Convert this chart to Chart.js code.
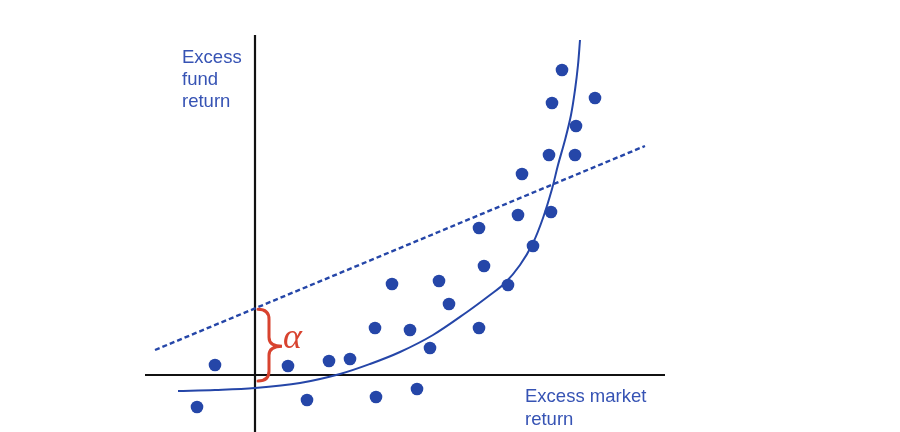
<!DOCTYPE html>
<html>
<head>
<meta charset="utf-8">
<script src="https://cdn.jsdelivr.net/npm/chart.js@4"></script>
<style>
  html, body { margin: 0; padding: 0; background: #fff; overflow: hidden; }
  canvas { display: block; }
</style>
</head>
<body>
<canvas id="myChart" width="900" height="432"></canvas>
<script>
// scatter of the fund against the market (units: arbitrary, axis cross at 0,0)
var marketReturn = [-1.45, -1.0, 0.825, 1.3, 1.85, 2.375, 3.025, 3.0, 3.425, 3.875, 4.05, 4.375, 4.6, 4.85,
                    5.6, 5.6, 5.725, 6.325, 6.575, 6.675, 6.95, 7.4, 7.35, 7.425, 8.0, 8.025, 7.675, 8.5];
var fundReturn = [-0.8, 0.25, 0.225, -0.625, 0.35, 0.4, -0.55, 1.175, 2.275, 1.125, -0.35, 0.675, 2.35, 1.775,
                  1.175, 3.675, 2.725, 2.25, 4.0, 5.025, 3.225, 4.075, 5.5, 6.8, 5.5, 6.225, 7.625, 6.925];

// straight (dashed) regression line
var fitX = [-2.5, 9.75];
var fitY = [0.625, 5.725];

// convex curve
var curveX = [-1.925, -1.0, 0, 1.125, 2.125, 2.875, 3.625, 4.45, 5.3, 5.875, 6.25, 6.625, 6.95, 7.2,
              7.425, 7.575, 7.75, 7.9, 8.0, 8.075, 8.125];
var curveY = [-0.4, -0.375, -0.325, -0.2, 0.025, 0.275, 0.575, 1.0, 1.575, 2.0, 2.3, 2.75, 3.3, 3.925,
              4.65, 5.25, 5.875, 6.5, 7.125, 7.75, 8.375];

var yAxisLabel = ['Excess', 'fund', 'return'];
var xAxisLabel = ['Excess market', 'return'];
var alphaLabel = 'α';

function pairs(xs, ys) {
    return xs.map(function (x, i) { return { x: x, y: ys[i] }; });
}

var blue = '#2546a8';
var textBlue = '#3653b4';
var red = '#d8432f';

// axes, labels and the alpha brace
var extras = {
    id: 'extras',
    beforeDatasetsDraw: function (chart) {
        var c = chart.ctx, a = chart.chartArea;
        var x0 = chart.scales.x.getPixelForValue(0);
        var y0 = chart.scales.y.getPixelForValue(0);
        c.save();
        c.strokeStyle = '#111';
        c.lineWidth = 2.2;
        c.beginPath();
        c.moveTo(a.left, y0);
        c.lineTo(a.right, y0);
        c.moveTo(x0, a.top);
        c.lineTo(x0, a.bottom);
        c.stroke();
        c.restore();
    },
    afterDraw: function (chart) {
        var c = chart.ctx;
        var xs = chart.scales.x, ys = chart.scales.y;
        var x0 = xs.getPixelForValue(0);

        c.save();
        c.fillStyle = textBlue;
        c.font = '18.5px "Liberation Sans", Arial, sans-serif';
        c.textBaseline = 'alphabetic';
        yAxisLabel.forEach(function (t, i) { c.fillText(t, 182, 63 + i * 22); });
        xAxisLabel.forEach(function (t, i) { c.fillText(t, 525, 402 + i * 23); });

        // brace from the line's intercept down to just above the x axis
        var intercept = fitY[0] + (0 - fitX[0]) * (fitY[1] - fitY[0]) / (fitX[1] - fitX[0]);
        var top = ys.getPixelForValue(intercept) + 1;
        var bot = ys.getPixelForValue(-0.15);
        var mid = (top + bot) / 2 + 1;
        var bx = x0 + 3, bm = x0 + 14, bt = x0 + 27;
        c.strokeStyle = red;
        c.lineWidth = 3;
        c.lineCap = 'round';
        c.beginPath();
        c.moveTo(bx, top);
        c.quadraticCurveTo(bm, top, bm, top + 10);
        c.lineTo(bm, mid - 9);
        c.quadraticCurveTo(bm, mid, bt, mid);
        c.quadraticCurveTo(bm, mid, bm, mid + 9);
        c.lineTo(bm, bot - 10);
        c.quadraticCurveTo(bm, bot, bx, bot);
        c.stroke();

        c.fillStyle = red;
        c.font = 'italic 36px "Liberation Serif", "DejaVu Serif", serif';
        c.fillText(alphaLabel, x0 + 28, mid + 2);
        c.restore();
    }
};

var ctx = document.getElementById('myChart').getContext('2d');
var chart = new Chart(ctx, {
    type: 'scatter',
    data: {
        datasets: [{
            label: 'Funds',
            data: pairs(marketReturn, fundReturn),
            backgroundColor: blue,
            borderWidth: 0,
            pointRadius: 6.3,
            order: 0
        }, {
            type: 'line',
            label: 'Linear fit',
            data: pairs(fitX, fitY),
            borderColor: blue,
            borderWidth: 2.4,
            borderDash: [5, 3],
            pointRadius: 0,
            fill: false,
            order: 2
        }, {
            type: 'line',
            label: 'Curve',
            data: pairs(curveX, curveY),
            borderColor: blue,
            borderWidth: 2,
            tension: 0.35,
            pointRadius: 0,
            fill: false,
            order: 1
        }]
    },
    options: {
        responsive: false,
        animation: false,
        layout: { autoPadding: false, padding: { left: 145, right: 235, top: 35, bottom: 0 } },
        plugins: {
            legend: { display: false },
            tooltip: { enabled: false }
        },
        scales: {
            x: { type: 'linear', display: false, min: -2.75, max: 10.25 },
            y: { type: 'linear', display: false, min: -1.425, max: 8.5 }
        },
        elements: { point: { hoverRadius: 6.3 } },
        clip: false
    },
    plugins: [extras]
});
</script>
</body>
</html>
